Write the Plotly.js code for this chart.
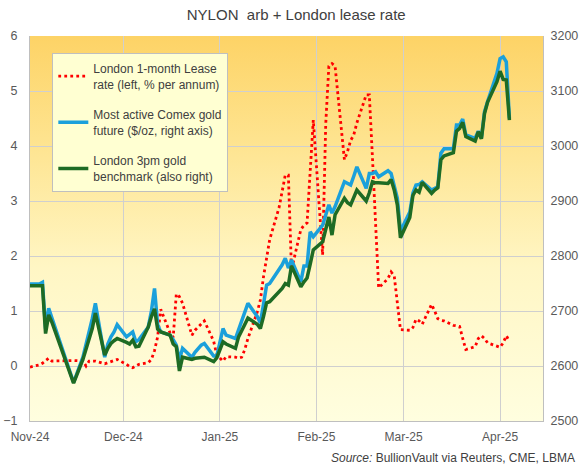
<!DOCTYPE html>
<html>
<head>
<meta charset="utf-8">
<script src="https://cdn.plot.ly/plotly-3.0.1.min.js"></script>
<style>
html,body{margin:0;padding:0;background:#ffffff;}
#chart{width:582px;height:468px;}
</style>
</head>
<body>
<div id="chart"></div>
<script>
// London 1-month lease rate (% p.a., left axis)
const leaseDates = ['2024-11-01','2024-11-04','2024-11-05','2024-11-06','2024-11-07','2024-11-08','2024-11-11','2024-11-12','2024-11-13','2024-11-14','2024-11-15','2024-11-18','2024-11-19','2024-11-20','2024-11-21','2024-11-22','2024-11-25','2024-11-26','2024-11-27','2024-11-28','2024-11-29',
'2024-12-02','2024-12-03','2024-12-04','2024-12-05','2024-12-06','2024-12-09','2024-12-10','2024-12-11','2024-12-12','2024-12-13','2024-12-16','2024-12-17','2024-12-18','2024-12-19','2024-12-20','2024-12-23','2024-12-24','2024-12-27','2024-12-30','2024-12-31',
'2025-01-02','2025-01-03','2025-01-06','2025-01-07','2025-01-08','2025-01-09','2025-01-10','2025-01-13','2025-01-14','2025-01-15','2025-01-16','2025-01-17','2025-01-20','2025-01-21','2025-01-22','2025-01-23','2025-01-24','2025-01-27','2025-01-28','2025-01-29','2025-01-30','2025-01-31',
'2025-02-03','2025-02-04','2025-02-05','2025-02-06','2025-02-07','2025-02-10','2025-02-11','2025-02-12','2025-02-13','2025-02-14','2025-02-17','2025-02-18','2025-02-19','2025-02-20','2025-02-21','2025-02-24','2025-02-25','2025-02-26','2025-02-27','2025-02-28',
'2025-03-03','2025-03-04','2025-03-05','2025-03-06','2025-03-07','2025-03-10','2025-03-11','2025-03-12','2025-03-13','2025-03-14','2025-03-17','2025-03-18','2025-03-19','2025-03-20','2025-03-21','2025-03-24','2025-03-25','2025-03-26','2025-03-27','2025-03-28','2025-03-31',
'2025-04-01','2025-04-02','2025-04-03','2025-04-04'];
const leaseRate = [-0.02,0.02,0.05,0.10,0.14,0.09,0.10,0.10,0.10,0.10,0.10,0.09,0.00,0.09,0.09,0.09,0.04,0.06,0.08,0.10,0.12,
0.03,-0.01,-0.03,0.00,0.03,0.06,0.12,0.28,0.53,1.03,0.60,0.52,1.31,1.26,1.14,0.56,0.65,0.82,0.45,0.20,
0.09,0.17,0.16,0.14,0.16,0.30,0.50,0.98,1.20,1.62,1.95,2.30,2.88,3.15,3.47,3.47,1.75,2.48,2.56,2.60,3.50,4.47,
2.02,4.40,5.45,5.50,5.45,3.75,3.90,4.10,4.20,4.42,4.93,4.93,3.80,2.60,1.42,1.59,1.71,1.64,1.20,0.66,
0.65,0.70,0.85,0.82,0.76,1.12,1.00,0.86,0.83,0.82,0.74,0.73,0.72,0.50,0.30,0.35,0.50,0.55,0.50,0.42,0.37,
0.34,0.42,0.55,0.45];

// Most active Comex gold future ($/oz, right axis)
const comexDates = ['2024-11-01','2024-11-04','2024-11-05','2024-11-06','2024-11-07','2024-11-08','2024-11-11','2024-11-12','2024-11-13','2024-11-14','2024-11-15','2024-11-18','2024-11-19','2024-11-20','2024-11-21','2024-11-22','2024-11-25','2024-11-26','2024-11-27','2024-11-28','2024-11-29',
'2024-12-02','2024-12-03','2024-12-04','2024-12-05','2024-12-06','2024-12-09','2024-12-10','2024-12-11','2024-12-12','2024-12-13','2024-12-16','2024-12-17','2024-12-18','2024-12-19','2024-12-20','2024-12-23','2024-12-24','2024-12-26','2024-12-27','2024-12-30','2024-12-31',
'2025-01-02','2025-01-03','2025-01-06','2025-01-07','2025-01-08','2025-01-09','2025-01-10','2025-01-13','2025-01-14','2025-01-15','2025-01-16','2025-01-17','2025-01-21','2025-01-22','2025-01-23','2025-01-24','2025-01-27','2025-01-28','2025-01-29','2025-01-30','2025-01-31',
'2025-02-03','2025-02-04','2025-02-05','2025-02-06','2025-02-07','2025-02-10','2025-02-11','2025-02-12','2025-02-13','2025-02-14','2025-02-17','2025-02-18','2025-02-19','2025-02-20','2025-02-21','2025-02-24','2025-02-25','2025-02-26','2025-02-27','2025-02-28',
'2025-03-03','2025-03-04','2025-03-05','2025-03-06','2025-03-07','2025-03-10','2025-03-11','2025-03-12','2025-03-13','2025-03-14','2025-03-17','2025-03-18','2025-03-19','2025-03-20','2025-03-21','2025-03-24','2025-03-25','2025-03-26','2025-03-27','2025-03-28','2025-03-31',
'2025-04-01','2025-04-02','2025-04-03','2025-04-04'];
const comexPrice = [2749,2749,2752,2668,2705,2688,2636,2619,2600,2584,2570,2616,2638,2660,2686,2714,2616,2640,2653,2662,2675,
2653,2658,2662,2644,2648,2671,2700,2741,2675,2662,2656,2648,2638,2611,2632,2616,2625,2638,2641,2618,2618,
2668,2656,2650,2665,2680,2697,2714,2690,2678,2712,2747,2750,2784,2796,2778,2793,2753,2782,2782,2844,2835,
2856,2875,2893,2878,2890,2935,2932,2929,2945,2962,2923,2950,2950,2953,2944,2955,2950,2930,2905,2845,
2880,2914,2929,2930,2935,2920,2923,2926,2987,2995,2995,3038,3038,3049,3020,3014,3027,3014,3062,3081,3132,
3159,3162,3153,3050];

// London 3pm gold benchmark ($/oz, right axis)
const lbmaDates = ['2024-11-01','2024-11-04','2024-11-05','2024-11-06','2024-11-07','2024-11-08','2024-11-11','2024-11-12','2024-11-13','2024-11-14','2024-11-15','2024-11-18','2024-11-19','2024-11-20','2024-11-21','2024-11-22','2024-11-25','2024-11-26','2024-11-27','2024-11-28','2024-11-29',
'2024-12-02','2024-12-03','2024-12-04','2024-12-05','2024-12-06','2024-12-09','2024-12-10','2024-12-11','2024-12-12','2024-12-13','2024-12-16','2024-12-17','2024-12-18','2024-12-19','2024-12-20','2024-12-23','2024-12-24','2024-12-27','2024-12-30','2024-12-31',
'2025-01-02','2025-01-03','2025-01-06','2025-01-07','2025-01-08','2025-01-09','2025-01-10','2025-01-13','2025-01-14','2025-01-15','2025-01-16','2025-01-17','2025-01-20','2025-01-21','2025-01-22','2025-01-23','2025-01-24','2025-01-27','2025-01-28','2025-01-29','2025-01-30','2025-01-31',
'2025-02-03','2025-02-04','2025-02-05','2025-02-06','2025-02-07','2025-02-10','2025-02-11','2025-02-12','2025-02-13','2025-02-14','2025-02-17','2025-02-18','2025-02-19','2025-02-20','2025-02-21','2025-02-24','2025-02-25','2025-02-26','2025-02-27','2025-02-28',
'2025-03-03','2025-03-04','2025-03-05','2025-03-06','2025-03-07','2025-03-10','2025-03-11','2025-03-12','2025-03-13','2025-03-14','2025-03-17','2025-03-18','2025-03-19','2025-03-20','2025-03-21','2025-03-24','2025-03-25','2025-03-26','2025-03-27','2025-03-28','2025-03-31',
'2025-04-01','2025-04-02','2025-04-03','2025-04-04'];
const lbmaPrice = [2746,2746,2746,2659,2693,2680,2632,2615,2598,2582,2569,2612,2630,2650,2668,2696,2620,2632,2641,2646,2650,
2643,2640,2647,2635,2636,2671,2690,2704,2667,2662,2656,2640,2635,2591,2616,2612,2614,2616,2608,2615,
2644,2640,2632,2653,2664,2676,2687,2676,2668,2690,2715,2717,2734,2741,2750,2747,2782,2744,2753,2760,2785,2811,
2826,2850,2871,2838,2875,2905,2897,2893,2908,2920,2900,2915,2935,2933,2933,2932,2939,2920,2893,2833,
2870,2910,2920,2916,2934,2914,2920,2924,2975,2982,2988,3027,3032,3043,3017,3009,3026,3013,3059,3080,3117,
3136,3121,3120,3047];

const monthTicks = ['2024-11-01','2024-12-01','2025-01-01','2025-02-01','2025-03-01','2025-04-01'];
const monthLabels = ['Nov-24','Dec-24','Jan-25','Feb-25','Mar-25','Apr-25'];

const seriesNames = [
  'London 1-month Lease<br>rate (left, % per annum)',
  'Most active Comex gold<br>future ($/oz, right axis)',
  'London 3pm gold<br>benchmark (also right)'
];

const FONT = '"Liberation Sans", Arial, sans-serif';

const traces = [
  {x: leaseDates, y: leaseRate, name: seriesNames[0], type: 'scatter', mode: 'lines',
   yaxis: 'y', legendgroup: 'a',
   line: {color: '#FF0000', width: 2.8, dash: '2.8px,3.2px'}},
  {x: comexDates, y: comexPrice, name: seriesNames[1], type: 'scatter', mode: 'lines',
   yaxis: 'y2', legendgroup: 'b',
   line: {color: '#1BA0DB', width: 3.5}},
  {x: lbmaDates, y: lbmaPrice, name: seriesNames[2], type: 'scatter', mode: 'lines',
   yaxis: 'y2', legendgroup: 'c',
   line: {color: '#1E6B24', width: 3.5}}
];

const gradSvg = '<svg xmlns="http://www.w3.org/2000/svg" width="10" height="100" viewBox="0 0 10 100" preserveAspectRatio="none">' +
  '<defs><linearGradient id="g" x1="0" y1="0" x2="0" y2="1">' +
  '<stop offset="0" stop-color="#FDD366"/>' +
  '<stop offset="0.3" stop-color="#FEE593"/>' +
  '<stop offset="0.6" stop-color="#FFF6C4"/>' +
  '<stop offset="1" stop-color="#FFFEDF"/>' +
  '</linearGradient></defs><rect x="0" y="0" width="10" height="100" fill="url(#g)"/></svg>';

const layout = {
  width: 582, height: 468,
  margin: {l: 30, r: 39, t: 36, b: 47, pad: 0},
  paper_bgcolor: '#FFFFFF',
  plot_bgcolor: 'rgba(0,0,0,0)',
  font: {family: FONT, size: 12, color: '#595959'},
  title: {text: 'NYLON\u00a0 arb + London lease rate', font: {family: FONT, size: 15, color: '#404040'},
          x: 0.509, xref: 'container', xanchor: 'center', y: 0.968, yref: 'container', yanchor: 'middle'},
  showlegend: true,
  legend: {x: 0.0435, y: 0.956, xanchor: 'left', yanchor: 'top',
           bgcolor: '#FFFFD2', bordercolor: '#BFBFBF', borderwidth: 1,
           font: {family: FONT, size: 12, color: '#404040'},
           tracegroupgap: 12, traceorder: 'grouped'},
  xaxis: {type: 'date', range: ['2024-11-01', '2025-04-14 19:00'],
          tickvals: monthTicks, ticktext: monthLabels,
          showgrid: true, gridcolor: '#CFCFCF', gridwidth: 1,
          showline: true, linecolor: '#BFBFBF', linewidth: 1,
          ticks: '', ticklabelstandoff: 5,
          tickfont: {family: FONT, size: 12, color: '#595959'},
          zeroline: false, fixedrange: true},
  yaxis: {range: [-1, 6], dtick: 1, tick0: 0,
          showgrid: true, gridcolor: '#CFCFCF', gridwidth: 1,
          showline: true, linecolor: '#BFBFBF', linewidth: 1,
          ticks: '', ticklabelstandoff: 9,
          tickfont: {family: FONT, size: 12.5, color: '#595959'},
          zeroline: false, fixedrange: true},
  yaxis2: {range: [2500, 3200], dtick: 100, overlaying: 'y', side: 'right',
           showgrid: false, showline: true, linecolor: '#BFBFBF', linewidth: 1,
           ticks: '', ticklabelstandoff: 4,
           tickfont: {family: FONT, size: 12.5, color: '#595959'},
           zeroline: false, fixedrange: true},
  images: [{source: 'data:image/svg+xml;charset=utf-8,' + encodeURIComponent(gradSvg),
            xref: 'paper', yref: 'paper', x: 0, y: 1, sizex: 1, sizey: 1,
            xanchor: 'left', yanchor: 'top', sizing: 'stretch', layer: 'below'}],
  annotations: [{text: '<i>Source:</i> BullionVault via Reuters, CME, LBMA',
                 xref: 'paper', yref: 'paper', x: 1.067, y: -0.096,
                 xanchor: 'right', yanchor: 'middle', showarrow: false,
                 font: {family: FONT, size: 12, color: '#404040'}}]
};

Plotly.newPlot('chart', traces, layout, {displayModeBar: false, staticPlot: true});
</script>
</body>
</html>
